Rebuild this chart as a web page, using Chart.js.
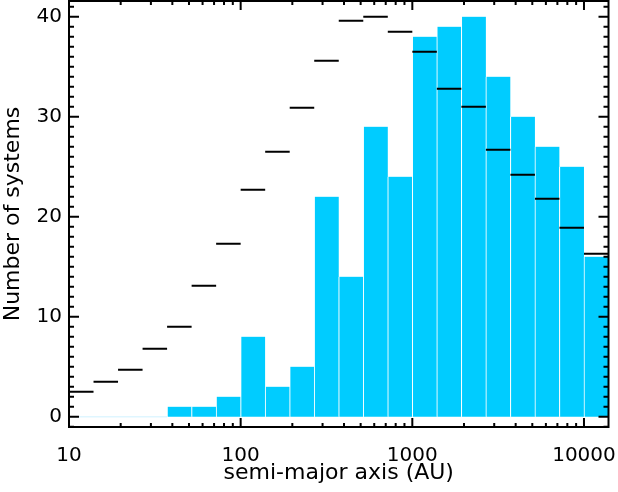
<!DOCTYPE html>
<html>
<head>
<meta charset="utf-8">
<script src="https://cdn.jsdelivr.net/npm/chart.js@4/dist/chart.umd.min.js"></script>
<style>
  html, body { margin: 0; padding: 0; background: #fff; }
  #wrap { width: 618px; height: 492px; }
</style>
</head>
<body>
<div id="wrap"><canvas id="chart" width="618" height="492"></canvas></div>
<script>
// histogram bins: 1/7 dex wide, starting at 10 AU
const binWidthDex = 1 / 7;
const firstEdge = 10;
const binCount = 22;

// observed counts per bin
const counts = [0, 0, 0, 0, 1, 1, 2, 8, 3, 5, 22, 14, 29, 24, 38, 39, 40, 34, 30, 27, 25, 16];
// black dashes (model) per bin
const model = [2.5, 3.5, 4.7, 6.8, 9.0, 13.1, 17.3, 22.7, 26.5, 30.9, 35.6, 39.6, 40.0, 38.5,
               36.5, 32.8, 31.0, 26.7, 24.2, 21.8, 18.9, 16.3];

const xTickLabels = [10, 100, 1000, 10000];
const yTickLabels = [0, 10, 20, 30, 40];

const edges = [];
for (let i = 0; i <= binCount; i++) edges.push(firstEdge * Math.pow(10, i * binWidthDex));
const centers = [];
for (let i = 0; i < binCount; i++) centers.push(Math.sqrt(edges[i] * edges[i + 1]));

const barData = counts.map((c, i) => ({ x: centers[i], y: c }));

const dashData = [];
model.forEach((v, i) => {
    dashData.push({ x: edges[i], y: v });
    dashData.push({ x: edges[i + 1], y: v });
    dashData.push({ x: edges[i + 1], y: null });
});

// faint line along zero for the empty bins
const zeroData = [];
counts.forEach((c, i) => {
    if (c === 0) {
        zeroData.push({ x: edges[i], y: 0 });
        zeroData.push({ x: edges[i + 1], y: 0 });
    }
});

// frame + inward ticks on all four sides
const frameTicks = {
    id: "frameTicks",
    afterDraw(chart) {
        const ctx = chart.ctx;
        const a = chart.chartArea;
        const xs = chart.scales.x;
        const ys = chart.scales.y;
        ctx.save();
        ctx.strokeStyle = "#000";
        ctx.lineWidth = 2;
        ctx.beginPath();
        for (let i = Math.ceil(ys.min); i <= Math.floor(ys.max); i++) {
            const y = ys.getPixelForValue(i);
            const len = i % 10 === 0 ? 10 : 5;
            ctx.moveTo(a.left, y); ctx.lineTo(a.left + len, y);
            ctx.moveTo(a.right, y); ctx.lineTo(a.right - len, y);
        }
        for (let k = 1; k <= 4; k++) {
            for (let m = 1; m <= 9; m++) {
                const v = m * Math.pow(10, k);
                if (v < xs.min || v > xs.max) continue;
                const x = xs.getPixelForValue(v);
                const len = m === 1 ? 9 : 4;
                ctx.moveTo(x, a.bottom); ctx.lineTo(x, a.bottom - len);
                ctx.moveTo(x, a.top); ctx.lineTo(x, a.top + len);
            }
        }
        ctx.stroke();
        ctx.strokeRect(a.left, a.top, a.right - a.left, a.bottom - a.top);
        ctx.restore();
    }
};

Chart.defaults.font.family = "'DejaVu Sans', sans-serif";
Chart.defaults.font.size = 20;
Chart.defaults.color = "#000";

new Chart(document.getElementById("chart"), {
    type: "bar",
    data: {
        datasets: [
            {
                type: "line",
                data: dashData,
                borderColor: "#000",
                borderWidth: 2,
                pointRadius: 0,
                spanGaps: false,
                order: 0
            },
            {
                type: "line",
                data: zeroData,
                borderColor: "#dff6ff",
                borderWidth: 1.5,
                pointRadius: 0,
                order: 1
            },
            {
                type: "bar",
                data: barData,
                backgroundColor: "#00CCFF",
                borderColor: "#ffffff",
                borderWidth: { left: 1, right: 0, top: 0, bottom: 0 },
                borderSkipped: false,
                barPercentage: 1,
                categoryPercentage: 1,
                order: 2
            }
        ]
    },
    options: {
        responsive: false,
        animation: false,
        devicePixelRatio: 1,
        layout: { padding: { top: 1, right: 9.5, left: 0, bottom: 0 } },
        plugins: { legend: { display: false }, tooltip: { enabled: false } },
        scales: {
            x: {
                type: "logarithmic",
                min: edges[0],
                max: edges[binCount],
                grid: { display: false, drawTicks: false },
                border: { display: false },
                afterBuildTicks: s => { s.ticks = xTickLabels.map(v => ({ value: v })); },
                ticks: {
                    autoSkip: false,
                    maxRotation: 0,
                    padding: 17,
                    callback: v => String(v)
                },
                title: {
                    display: true,
                    text: "semi-major axis (AU)",
                    font: { size: 22 },
                    padding: { top: 0, bottom: 6 }
                },
                afterFit: s => { s.height = 65; s.paddingLeft = 0; s.paddingRight = 0; }
            },
            y: {
                min: -1.03,
                max: 41.57,
                grid: { display: false, drawTicks: false },
                border: { display: false },
                afterBuildTicks: s => { s.ticks = yTickLabels.map(v => ({ value: v })); },
                ticks: {
                    autoSkip: false,
                    padding: 7,
                    callback: v => String(v)
                },
                title: { display: true, text: "Number of systems", font: { size: 22 }, padding: 0 },
                afterFit: s => { s.width = 69; s.paddingTop = 0; s.paddingBottom = 0; }
            }
        }
    },
    plugins: [frameTicks]
});
</script>
</body>
</html>
